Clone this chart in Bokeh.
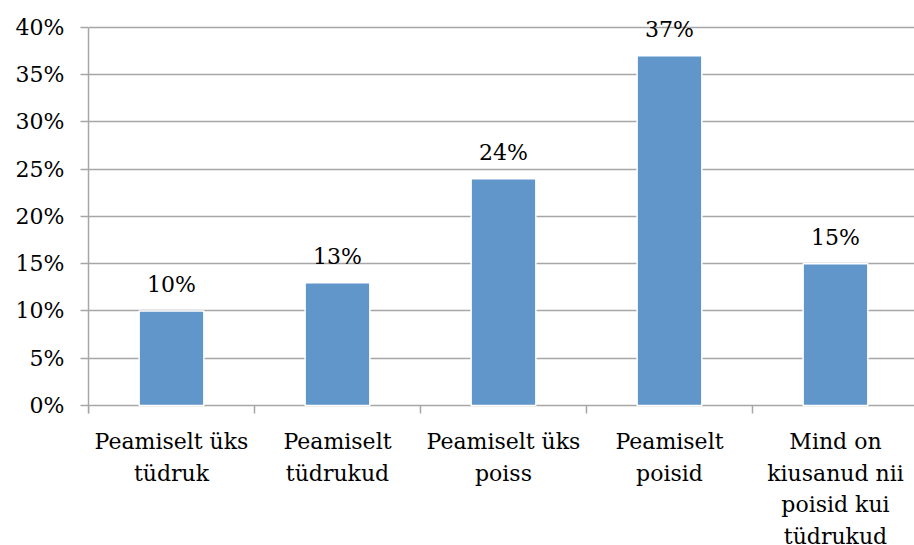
import math
from bokeh.plotting import figure
from bokeh.models import (ColumnDataSource, Range1d, FixedTicker, LabelSet,
                          PrintfTickFormatter)
from bokeh.core.properties import value
from bokeh.embed import file_html
from bokeh.resources import INLINE

categories = ["Peamiselt üks\ntüdruk", "Peamiselt\ntüdrukud", "Peamiselt üks\npoiss",
              "Peamiselt\npoisid", "Mind on\nkiusanud nii\npoisid kui\ntüdrukud"]
values = [10, 13, 24, 37, 15]
y_ticks = [0, 5, 10, 15, 20, 25, 30, 35, 40]

FONT = "DejaVu Serif"
GRID = "#A6A6A6"

xs = [i + 0.5 for i in range(len(categories))]
src = ColumnDataSource(dict(x=xs, top=values, cat=categories,
                            lbl=[f"{v}%" for v in values],
                            zero=[0] * len(values)))
bounds_src = ColumnDataSource(dict(x=list(range(len(categories) + 1)),
                                   y=[0] * (len(categories) + 1)))

p = figure(width=914, height=545, output_backend="svg", toolbar_location=None,
           x_range=Range1d(0, 4.976), y_range=Range1d(-14.815, 42.857),
           x_axis_location=None,
           min_border_left=88, min_border_right=0, min_border_top=0,
           min_border_bottom=0)
p.outline_line_color = None
p.background_fill_color = "white"
p.border_fill_color = "white"

p.vbar(x="x", top="top", width=0.39, source=src, fill_color="#6096CA",
       line_color="white", line_width=1.5)

# y axis
p.yaxis.ticker = FixedTicker(ticks=y_ticks)
p.yaxis.bounds = (-0.85, 40)
p.yaxis.formatter = PrintfTickFormatter(format="%d%%")
p.yaxis.axis_line_color = GRID
p.yaxis.axis_line_width = 1.5
p.yaxis.major_tick_line_color = GRID
p.yaxis.major_tick_line_width = 1.5
p.yaxis.major_tick_out = 8
p.yaxis.major_tick_in = 0
p.yaxis.minor_tick_line_color = None
p.yaxis.major_label_text_font = FONT
p.yaxis.major_label_text_font_size = "22px"
p.yaxis.major_label_text_color = "black"
p.yaxis.major_label_standoff = 16

p.ygrid.ticker = FixedTicker(ticks=y_ticks)
p.ygrid.grid_line_color = GRID
p.ygrid.grid_line_width = 1.5
p.xgrid.grid_line_color = None

# category boundary ticks below the zero line
p.ray(x="x", y="y", source=bounds_src, length=8, length_units="screen",
      angle=-math.pi / 2, line_color=GRID, line_width=1.5)

# category labels
p.text(x="x", y="zero", text="cat", source=src, y_offset=24,
       text_align="center", text_baseline="top", text_line_height=1.26,
       text_font=value(FONT), text_font_size=value("22px"), text_color="black")

# value labels
p.add_layout(LabelSet(x="x", y="top", text="lbl", source=src, y_offset=19,
                      text_align="center", text_baseline="alphabetic",
                      text_font=value(FONT), text_font_size=value("22px"),
                      text_color="black"))

open("out.html", "w").write(file_html(p, INLINE))
